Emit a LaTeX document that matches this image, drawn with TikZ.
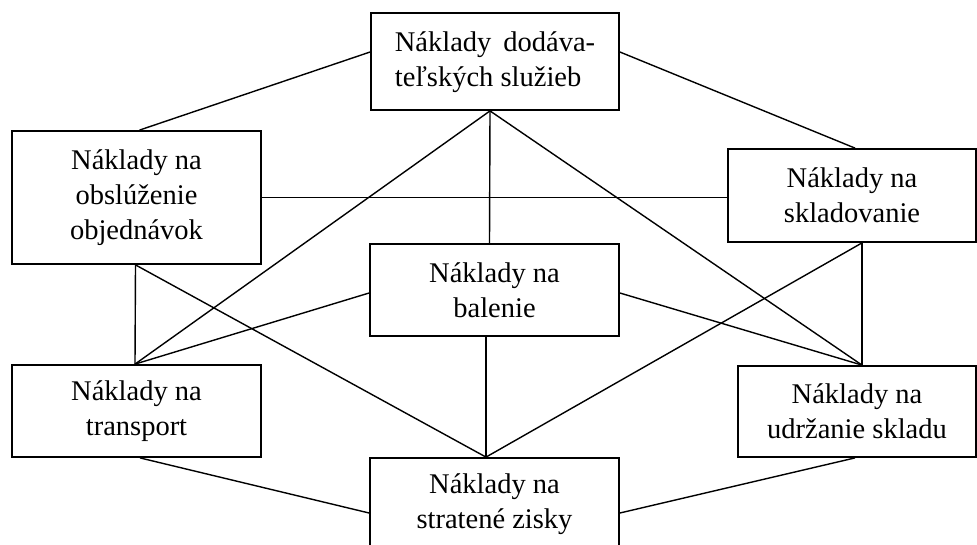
\documentclass[tikz,border=0pt]{standalone}
\usepackage{fontspec}
\setmainfont{Liberation Serif}
\begin{document}
\begin{tikzpicture}[x=1pt,y=-1pt,
  box/.style={draw, line width=1.8pt, inner sep=0pt, align=center,
    font=\fontsize{28.5}{35}\selectfont},
  link/.style={line width=1.4pt}]
\clip (0,0) rectangle (977,544);
\fill[white] (0,0) rectangle (977,544);

% cost boxes
\node[box, minimum width=248, minimum height=97] (sup) at (495,61.5)
  {\begin{tabular}{@{}l@{}}Náklady\hspace{0.42em}dodáva-\\teľských služieb\end{tabular}};
\node[box, minimum width=249, minimum height=133] (obj) at (136.5,197.5)
  {Náklady na\\obslúženie\\objednávok};
\node[box, minimum width=248, minimum height=93] (skl) at (852,195.5)
  {Náklady na\\skladovanie};
\node[box, minimum width=249, minimum height=92] (bal) at (494.5,290)
  {Náklady na\\balenie};
\node[box, minimum width=249, minimum height=92] (tra) at (136.5,411)
  {Náklady na\\transport};
\node[box, minimum width=238, minimum height=91] (udr) at (857,411.5)
  {Náklady na\\udržanie skladu};
\node[box, minimum width=249, minimum height=92] (str) at (494.5,504)
  {Náklady na\\stratené zisky};

% attachment points on the box borders
\coordinate (supL) at ([yshift=9.5]sup.west);
\coordinate (supR) at ([yshift=9.5]sup.east);
\coordinate (supB) at ([xshift=-5]sup.south);
\coordinate (objT) at ([xshift=3]obj.north);
\coordinate (objB) at ([xshift=-1]obj.south);
\coordinate (sklT) at ([xshift=3]skl.north);
\coordinate (sklB) at ([xshift=10]skl.south);
\coordinate (balT) at ([xshift=-5]bal.north);
\coordinate (balL) at ([yshift=-3]bal.west);
\coordinate (balR) at ([yshift=-3]bal.east);
\coordinate (balB) at ([xshift=-8.5]bal.south);
\coordinate (traT) at ([xshift=-1.5]tra.north);
\coordinate (traB) at ([xshift=3.5]tra.south);
\coordinate (udrT) at ([xshift=5]udr.north);
\coordinate (udrB) at ([xshift=-2]udr.south);
\coordinate (strT) at ([xshift=-8.5]str.north);
\coordinate (strL) at ([yshift=-9]str.west);
\coordinate (strR) at ([yshift=-9]str.east);

% relations
\draw[link] (objT) -- (supL);
\draw[link] (supR) -- (sklT);
\draw[link] (supB) -- (traT);
\draw[link] (supB) -- (balT);
\draw[link] (supB) -- (udrT);
\draw[link] (obj.east) -- (obj.east -| skl.west);
\draw[link] (objB) -- (traT);
\draw[link] (objB) -- (strT);
\draw[link] (sklB) -- (udrT);
\draw[link] (sklB) -- (strT);
\draw[link] (balL) -- (traT);
\draw[link] (balR) -- (udrT);
\draw[link] (balB) -- (strT);
\draw[link] (traB) -- (strL);
\draw[link] (udrB) -- (strR);
\end{tikzpicture}
\end{document}
